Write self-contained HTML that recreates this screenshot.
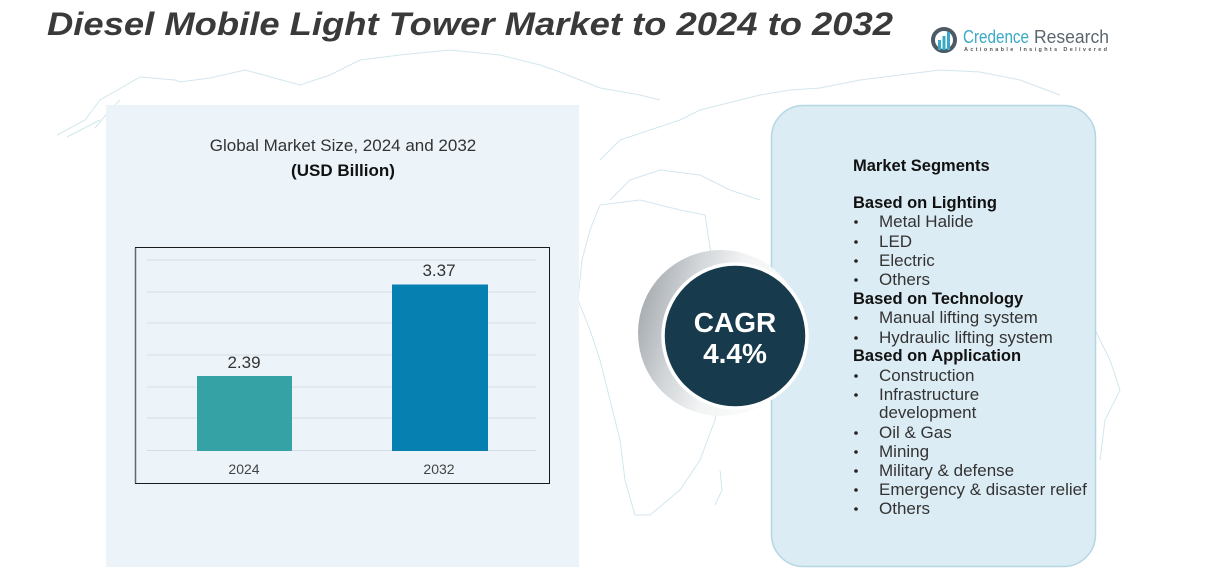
<!DOCTYPE html>
<html><head><meta charset="utf-8"><style>
html,body{margin:0;padding:0;background:#fff;}
svg{display:block;}
</style></head><body>
<svg width="1226" height="581" viewBox="0 0 1226 581" xmlns="http://www.w3.org/2000/svg" font-family="Liberation Sans, sans-serif">
<defs>
<linearGradient id="sh" x1="0" y1="0.2" x2="1" y2="0.5">
<stop offset="0" stop-color="#9aa0a6"/>
<stop offset="0.3" stop-color="#cfd3d6"/>
<stop offset="0.55" stop-color="#f2f3f4"/>
<stop offset="1" stop-color="#ffffff"/>
</linearGradient>
</defs>
<rect width="1226" height="581" fill="#fff"/>
<!-- faint map outlines -->
<g fill="none" stroke="#d3e6ee" stroke-width="1">
<path d="M57,135 L85,120 L100,100 L140,77 L175,80 L180,82 L210,78 L245,70 L300,85 L330,75 L360,60 L400,55 L450,50 L500,55 L540,65 L560,72 L600,88 L640,95 L660,100"/>
<path d="M95,128 L110,110 L120,100 M67,137 L100,120"/>
<path d="M600,205 L640,200 L680,210 L705,215 L712,260 L725,300 L740,330 M720,380 L715,420 L700,460 L680,490 L650,515 L635,515 L625,480 L620,440 L610,400 L600,360 L590,330 L578,300 L582,260 L590,230 L600,205"/>
<path d="M600,160 L620,140 L650,130 L680,120 L700,110 L720,105 L760,95 L790,90 L820,88 L860,80 L900,75 L940,70 L980,72 L1020,80 L1060,95"/>
<path d="M610,200 L630,180 L660,170 L700,175 L730,190 L760,200"/>
<path d="M1095,330 L1110,360 L1120,390 L1105,420 L1100,460"/>
<path d="M720,470 L722,490 L715,505"/>
</g>
<!-- left panel -->
<rect x="106" y="105" width="473" height="462" fill="#eaf3fa" opacity="0.92"/>
<!-- right panel -->
<rect x="771.5" y="105.5" width="324" height="461" rx="32" ry="32" fill="#dcecf4" stroke="#b5d6e3" stroke-width="1.5"/>
<!-- title -->
<text x="47" y="35" font-size="32" font-weight="bold" font-style="italic" fill="#3a3a3a" textLength="846" lengthAdjust="spacingAndGlyphs">Diesel Mobile Light Tower Market to 2024 to 2032</text>
<!-- logo -->
<g>
<circle cx="944" cy="40" r="11" fill="none" stroke="#4d5a63" stroke-width="4"/>
<rect x="938" y="40" width="3" height="10" fill="#38a9c6"/>
<rect x="942.5" y="36" width="3" height="14" fill="#38a9c6"/>
<rect x="947" y="32" width="3" height="18" fill="#38a9c6"/>
<text x="963" y="43" font-size="18" fill="#38a9c6" textLength="66" lengthAdjust="spacingAndGlyphs">Credence</text>
<text x="1034" y="43" font-size="18" fill="#5c6670" textLength="75" lengthAdjust="spacingAndGlyphs">Research</text>
<text x="964" y="51" font-size="5.5" font-weight="bold" fill="#555" textLength="143" lengthAdjust="spacing">Actionable Insights Delivered</text>
</g>
<!-- chart title -->
<text x="343" y="151" font-size="17" fill="#333" text-anchor="middle">Global Market Size,  2024 and 2032</text>
<text x="343" y="176" font-size="17" font-weight="bold" fill="#111" text-anchor="middle">(USD Billion)</text>
<!-- chart box -->
<rect x="135.5" y="247.5" width="414" height="236" fill="none" stroke="#1a1a1a" stroke-width="1"/>
<line x1="135.5" y1="248" x2="135.5" y2="483" stroke="#666" stroke-width="1.5"/>
<g stroke="#d6dde2" stroke-width="1">
<line x1="147" y1="260" x2="536" y2="260"/>
<line x1="147" y1="292" x2="536" y2="292"/>
<line x1="147" y1="323" x2="536" y2="323"/>
<line x1="147" y1="355" x2="536" y2="355"/>
<line x1="147" y1="387" x2="536" y2="387"/>
<line x1="147" y1="418" x2="536" y2="418"/>
<line x1="147" y1="450.5" x2="536" y2="450.5"/>
</g>
<rect x="197" y="376" width="95" height="75" fill="#35a3a5"/>
<rect x="392" y="284.5" width="96" height="166.5" fill="#0580b0"/>
<text x="244" y="368" font-size="17" fill="#333" text-anchor="middle">2.39</text>
<text x="439" y="276" font-size="17" fill="#333" text-anchor="middle">3.37</text>
<text x="244" y="474" font-size="14" fill="#444" text-anchor="middle">2024</text>
<text x="439" y="474" font-size="14" fill="#444" text-anchor="middle">2032</text>
<!-- CAGR -->
<circle cx="721" cy="333" r="83" fill="url(#sh)" opacity="0.95"/>
<circle cx="735" cy="336" r="72" fill="#173b4c" stroke="#ffffff" stroke-width="3.5"/>
<text x="735" y="332" font-size="28" font-weight="bold" fill="#fff" text-anchor="middle">CAGR</text>
<text x="735" y="363" font-size="28" font-weight="bold" fill="#fff" text-anchor="middle">4.4%</text>
<!-- segments -->
<g font-size="17">
<text x="853" y="171" font-size="16.5" font-weight="bold" fill="#111">Market Segments</text>
<text x="853" y="208" font-size="16.5" font-weight="bold" fill="#111">Based on Lighting</text>
<text x="879" y="227" fill="#333">Metal Halide</text>
<text x="879" y="247" fill="#333">LED</text>
<text x="879" y="266" fill="#333">Electric</text>
<text x="879" y="285" fill="#333">Others</text>
<text x="853" y="304" font-size="16.5" font-weight="bold" fill="#111">Based on Technology</text>
<text x="879" y="323" fill="#333">Manual lifting system</text>
<text x="879" y="343" fill="#333">Hydraulic lifting system</text>
<text x="853" y="361" font-size="16.5" font-weight="bold" fill="#111">Based on Application</text>
<text x="879" y="381" fill="#333">Construction</text>
<text x="879" y="400" fill="#333">Infrastructure</text>
<text x="879" y="418" fill="#333">development</text>
<text x="879" y="438" fill="#333">Oil &amp; Gas</text>
<text x="879" y="457" fill="#333">Mining</text>
<text x="879" y="476" fill="#333">Military &amp; defense</text>
<text x="879" y="495" fill="#333">Emergency &amp; disaster relief</text>
<text x="879" y="514" fill="#333">Others</text>
</g>
<g fill="#222">
<circle cx="856" cy="222" r="1.8"/>
<circle cx="856" cy="242" r="1.8"/>
<circle cx="856" cy="261" r="1.8"/>
<circle cx="856" cy="280" r="1.8"/>
<circle cx="856" cy="318" r="1.8"/>
<circle cx="856" cy="338" r="1.8"/>
<circle cx="856" cy="376" r="1.8"/>
<circle cx="856" cy="395" r="1.8"/>
<circle cx="856" cy="433" r="1.8"/>
<circle cx="856" cy="452" r="1.8"/>
<circle cx="856" cy="471" r="1.8"/>
<circle cx="856" cy="490" r="1.8"/>
<circle cx="856" cy="509" r="1.8"/>
</g>
</svg>
</body></html>
